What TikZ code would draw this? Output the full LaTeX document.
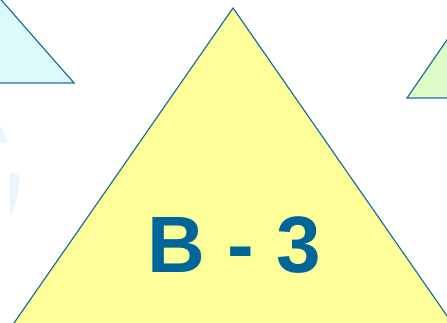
\documentclass[tikz,border=0pt]{standalone}
\usepackage{fontspec}
\setmainfont{Liberation Sans}
\definecolor{edgeblue}{HTML}{1F6E9E}
\definecolor{txtblue}{HTML}{006699}
\definecolor{paleyellow}{HTML}{FFFF99}
\definecolor{palecyan}{HTML}{DDFAFA}
\definecolor{palegreen}{HTML}{DDFCC8}
\definecolor{ghostblue}{HTML}{EAF5FC}
\begin{document}
\begin{tikzpicture}[x=1pt,y=1pt,
    tri/.style={draw=edgeblue,line width=1.2pt,line join=miter}]
  \useasboundingbox (0,0) rectangle (447,323);
  \clip (0,0) rectangle (447,323);
  % faint background marks
  \fill[ghostblue] (0,198) -- (8,181) -- (0,180) -- cycle;
  \fill[ghostblue] (10,150) -- (20,150) .. controls (19,130) and (15,115) .. (10,108) -- cycle;
  % side triangles
  \draw[tri,fill=palecyan] (-4,323+6) -- (74,240) -- (-4,240);
  \draw[tri,fill=palegreen] (460,302) -- (407,225) -- (460,225);
  % main triangle
  \coordinate (apex) at (233,315);
  \draw[tri,fill=paleyellow] (apex) -- (14,0) -- ++(0,-10) -- (452,-10) -- (452,0) -- cycle;
  \node[font=\bfseries\fontsize{80}{80}\selectfont,text=txtblue] (lbl) at (234,78) {B - 3};
\end{tikzpicture}
\end{document}
